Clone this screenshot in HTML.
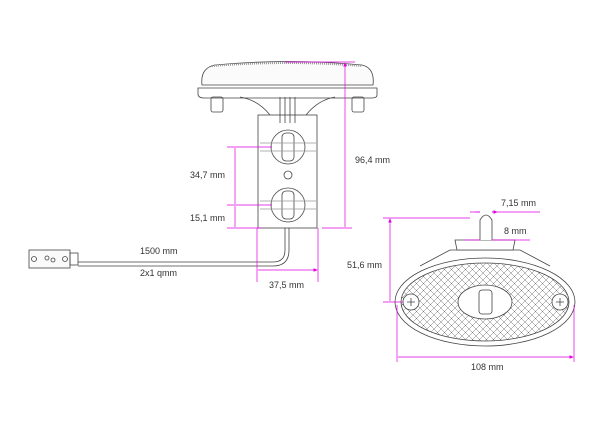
<!DOCTYPE html>
<html><head><style>body{margin:0;background:#fff}svg{display:block}text{font-family:"Liberation Sans",sans-serif;font-size:9px;fill:#333}</style></head><body>
<svg width="600" height="424" viewBox="0 0 600 424">
<defs>
<pattern id="h" width="7" height="7" patternUnits="userSpaceOnUse"><path d="M0 0L7 7M7 0L0 7" stroke="#777" stroke-width="0.5"/></pattern>
<marker id="a" markerWidth="6" markerHeight="6" refX="5" refY="3" orient="auto-start-reverse"><path d="M0 0.5L6 3L0 5.5z" fill="#e000e0"/></marker>
</defs>
<g fill="none" stroke="#444" stroke-width="0.8">
<path d="M202 85 Q200 68 215 65 Q288 58 362 65 Q375 68 373 85 Z" fill="#fbfbfb"/>
<path d="M212 66 Q288 60 362 66" stroke="#999" stroke-dasharray="1 1" stroke-width="2"/>
<path d="M198 88 L377 88 L377 95 Q377 98 372 98 L204 98 Q198 98 198 94 Z"/>
<rect x="211" y="97" width="12" height="15" rx="2"/><rect x="352" y="97" width="12" height="15" rx="2"/>
<path d="M240 97 Q258 100 270 115 M335 97 Q318 100 306 115"/>
<rect x="258" y="115" width="59" height="113"/>
<path d="M280 97V123M285 97V123M290 97V123M295 97V123"/>
<circle cx="288" cy="147" r="17"/><circle cx="288" cy="205" r="17"/>
<rect x="282" y="133" width="12" height="28" rx="4"/><rect x="282" y="191" width="12" height="28" rx="4"/>
<path d="M260 143H316M260 151H316M260 201H316M260 209H316" stroke="#999"/>
<circle cx="288" cy="175" r="4"/>
<path d="M285 228V250Q285 262 273 262H78M289 228V250Q289 266 273 266H78"/>
<rect x="29" y="250" width="41" height="18" fill="#fafafa"/><rect x="70" y="253" width="8" height="12"/>
<circle cx="34" cy="259" r="2.5"/><circle cx="65" cy="259" r="2.5"/><circle cx="47" cy="258" r="2"/><circle cx="53" cy="260" r="2"/>
<ellipse cx="485" cy="302" rx="90" ry="44" fill="#fff"/>
<ellipse cx="485" cy="302" rx="84" ry="39" fill="url(#h)"/>
<path d="M420 266 L450 250 L520 250 L550 266"/>
<path d="M455 240 L515 240 L513 250 L457 250 Z" fill="#fff"/>
<path d="M480 240 V220 Q486 210 492 220 V240" fill="#fff"/>
<ellipse cx="485" cy="302" rx="27" ry="17" fill="#fff"/>
<rect x="479" y="290" width="13" height="24" rx="3"/>
<circle cx="411" cy="302" r="8" fill="#fff"/><circle cx="560" cy="302" r="8" fill="#fff"/>
<path d="M407 302h8M411 298v8M556 302h8M560 298v8"/>
</g>
<g stroke="#e000e0" stroke-width="0.7" fill="none">
<path d="M285 62H355M322 228H352M227 147H272M227 205H272M227 228H262M257 228V282M318 228V282"/>
<path d="M345 63V227M235 148V204M235 206V227M258 270H317" marker-start="url(#a)" marker-end="url(#a)"/>
<path d="M383 218H470M383 302H403M397 305V362M574 305V362"/>
<path d="M390 219V301M398 357H573" marker-start="url(#a)" marker-end="url(#a)"/>
<path d="M470 212H480M492 212H540M465 240H480M492 240H530" />
<path d="M480 212H475M492 212H497" marker-end="url(#a)"/>
</g>
<text x="355" y="163">96,4 mm</text>
<text x="190" y="178">34,7 mm</text>
<text x="190" y="221">15,1 mm</text>
<text x="140" y="254">1500 mm</text>
<text x="140" y="276">2x1 qmm</text>
<text x="269" y="288">37,5 mm</text>
<text x="501" y="206">7,15 mm</text>
<text x="504" y="234">8 mm</text>
<text x="347" y="268">51,6 mm</text>
<text x="471" y="370">108 mm</text>
</svg>
</body></html>
